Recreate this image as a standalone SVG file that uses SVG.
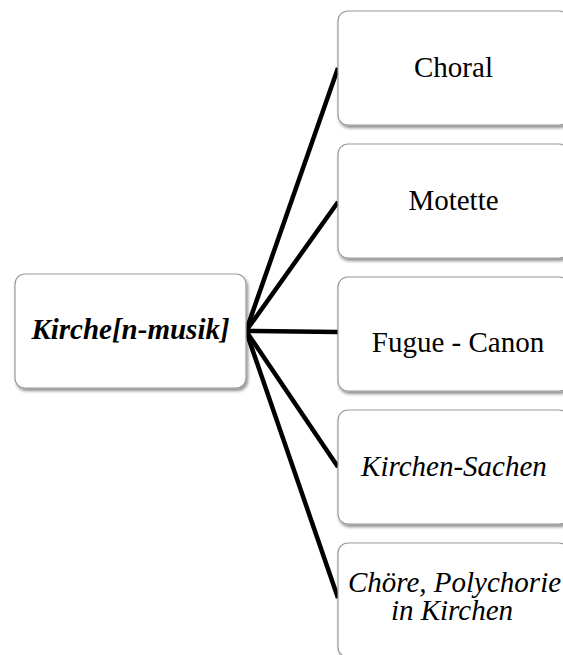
<svg xmlns="http://www.w3.org/2000/svg" width="563" height="655" viewBox="0 0 563 655">
<defs>
<filter id="sh" x="-10%" y="-10%" width="120%" height="130%">
<feDropShadow dx="1.5" dy="2.5" stdDeviation="1.5" flood-color="#000" flood-opacity="0.45"/>
</filter>
<style>
.box{fill:#fff;stroke:#9a9a9a;stroke-width:1.2;filter:url(#sh)}
.t{font-family:"Liberation Serif","Times New Roman",serif;font-size:29px;fill:#000;text-anchor:middle}
.i{font-style:italic}
.b{font-weight:bold}
.c{stroke:#000;stroke-width:4.5;fill:none;stroke-linecap:butt}
</style>
</defs>
<rect width="563" height="655" fill="#fff"/>
<g id="connectors">
<line class="c" x1="246" y1="331" x2="338" y2="68"/>
<line class="c" x1="246" y1="331" x2="338" y2="202"/>
<line class="c" x1="246" y1="331" x2="338" y2="332"/>
<line class="c" x1="246" y1="331" x2="338" y2="467"/>
<line class="c" x1="246" y1="331" x2="338" y2="598"/>
</g>
<g id="root">
<rect class="box" x="15" y="274" width="231" height="114" rx="10"/>
<text class="t i b" x="130.5" y="339">Kirche[n-musik]</text>
</g>
<g id="choral">
<rect class="box" x="338" y="11" width="231" height="114" rx="10"/>
<text class="t" x="453.5" y="77">Choral</text>
</g>
<g id="motette">
<rect class="box" x="338" y="144" width="231" height="114" rx="10"/>
<text class="t" x="453.5" y="210">Motette</text>
</g>
<g id="fugue">
<rect class="box" x="338" y="277" width="231" height="114" rx="10"/>
<text class="t" x="458" y="352">Fugue - Canon</text>
</g>
<g id="sachen">
<rect class="box" x="338" y="410" width="231" height="114" rx="10"/>
<text class="t i" x="454" y="476">Kirchen-Sachen</text>
</g>
<g id="choere">
<rect class="box" x="338" y="543" width="231" height="114" rx="10"/>
<text class="t i" x="454.5" y="592">Chöre, Polychorie</text>
<text class="t i" x="452" y="620">in Kirchen</text>
</g>
</svg>
